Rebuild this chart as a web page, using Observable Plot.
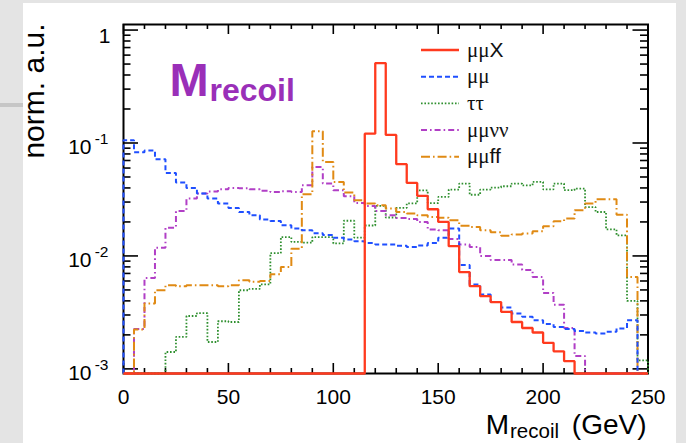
<!DOCTYPE html>
<html><head><meta charset="utf-8">
<script src="https://cdn.jsdelivr.net/npm/d3@7"></script>
<script src="https://cdn.jsdelivr.net/npm/@observablehq/plot@0.6"></script>
<style>
html,body{margin:0;padding:0;}
body{width:686px;height:443px;background:#e4e4e4;position:relative;overflow:hidden;}
#paper{position:absolute;left:23px;top:3px;width:653px;height:440px;background:#fff;}
#band{position:absolute;left:0;top:103px;width:23px;height:4px;background:#c6c6c6;}
#chart{position:absolute;left:0;top:0;}
</style></head><body>
<div id="paper"></div><div id="band"></div><div id="chart"></div>
<script>
// ---------- data (50 bins of 5 GeV, 0–250 GeV) ----------
const BIN = 5;
const binLow = d3.range(0, 250, BIN);

const muMuX = [0,0,0,0,0,0,0,0,0,0, 0,0,0,0,0,0,0,0,0,0, 0,0,0,0.121,0.51,0.118,0.065,0.0443,0.034,0.0259,
  0.020,0.0122,0.0072,0.0054,0.0044,0.0039,0.0032,0.0026,0.0023,0.0021, 0.0017,0.00143,0.00117,0,0,0,0,0,0,0];
const muMu = [0.106,0.083,0.086,0.0718,0.0543,0.0446,0.040,0.0357,0.0322,0.0291, 0.0266,0.0245,0.0229,0.021,0.0204,0.0187,0.0175,0.0169,0.0159,0.0153,
  0.0145,0.014,0.0135,0.013,0.0126,0.0126,0.0123,0.012,0.0124,0.013, 0.0145,0.0175,0.0083,0.0056,0.00455,0.0039,0.0035,0.0031,0.0029,0.0027,
  0.0025,0.00235,0.00225,0.00217,0.0021,0.00206,0.00213,0.00228,0.0027,0];
const tauTau = [0,0,0,0,0.00141,0.00192,0.00294,0.00311,0.00173,0.00264, 0.0026,0.00497,0.0051,0.0056,0.0106,0.0147,0.0133,0.0131,0.0147,0.0147,
  0.0129,0.0205,0.0145,0.0186,0.0277,0.0219,0.0266,0.0292,0.0381,0.0294, 0.0333,0.0387,0.0437,0.0348,0.0387,0.0403,0.0414,0.0437,0.0422,0.0452,
  0.0389,0.0437,0.0382,0.0395,0.0271,0.0245,0.0172,0.0152,0.004,0.00119];
const muMuNuNu = [0,0.00226,0.00638,0.0118,0.0178,0.025,0.0322,0.0357,0.0372,0.0389, 0.040,0.0398,0.0389,0.0378,0.0368,0.0373,0.0368,0.0422,0.0613,0.0437,
  0.0381,0.0338,0.0294,0.0277,0.025,0.0229,0.0217,0.0212,0.020,0.0171, 0.0169,0.0141,0.0126,0.012,0.010,0.0092,0.0092,0.0084,0.0075,0.0065,
  0.0047,0.0037,0.0023,0.0013,0,0,0,0,0,0];
const muMuFF = [0,0.00223,0.00379,0.00497,0.0055,0.0054,0.0055,0.0055,0.0055,0.0054, 0.0055,0.0061,0.0059,0.0060,0.0069,0.008,0.0116,0.0352,0.127,0.068,
  0.0452,0.0364,0.0311,0.0291,0.0281,0.0263,0.0245,0.0237,0.0229,0.0221, 0.0218,0.0207,0.0185,0.018,0.0169,0.0162,0.0151,0.0155,0.0158,0.0165,
  0.0183,0.0203,0.0214,0.0254,0.0291,0.0318,0.0318,0.0232,0.0065,0];

const xTickLabels = [0, 50, 100, 150, 200, 250];
const xMinorTicks = d3.range(0, 251, 10).filter(v => v % 50 !== 0);
const yTickValues = [1, 0.1, 0.01, 0.001];
const yTickExponents = [0, -1, -2, -3];
const yMinorTicks = [-3, -2, -1].flatMap(e => d3.range(2, 10).map(m => m * Math.pow(10, e)));

const seriesNames = ["μμX", "μμ", "ττ", "μμνν", "μμff"];

// ---------- layout / style ----------
const W = 686, H = 443, mL = 123, mR = 38.5, mT = 24, mB = 70;
const pW = W - mL - mR, pH = H - mT - mB;
const YMIN = 0.00091, YMAX = 1.12;
const FONT = '"Liberation Sans", Arial, Helvetica, sans-serif';
const SERIF = '"Liberation Serif", "Times New Roman", serif';

const styles = [
  {color: "#ff3a1e", width: 2.3, dash: null},
  {color: "#1f4fff", width: 2, dash: "5,3"},
  {color: "#2e8f2e", width: 1.8, dash: "1.6,1.8"},
  {color: "#b13fc6", width: 2, dash: "6,3,1.6,3"},
  {color: "#e08a14", width: 2, dash: "9,3,1.6,3"}
];
const legendParts = [
  [["μμ", SERIF], ["X", FONT]],
  [["μμ", SERIF]],
  [["ττ", SERIF]],
  [["μμνν", SERIF]],
  [["μμ", SERIF], ["ff", FONT]]
];

function steps(values, name) {
  const pts = [{x: 0, y: YMIN, s: name}];
  values.forEach((v, i) => {
    const y = Math.max(v, YMIN);
    pts.push({x: binLow[i], y, s: name}, {x: binLow[i] + BIN, y, s: name});
  });
  pts.push({x: 250, y: YMIN, s: name});
  return pts;
}
const allSeries = [muMuX, muMu, tauTau, muMuNuNu, muMuFF];
const drawOrder = [2, 3, 4, 1, 0];

const lineMarks = drawOrder.map(k => Plot.line(steps(allSeries[k], seriesNames[k]), {
  x: "x", y: "y", stroke: styles[k].color, strokeWidth: styles[k].width,
  strokeDasharray: styles[k].dash, strokeLinejoin: "miter", strokeLinecap: "butt", curve: "linear"
}));

function legendMark(index, scales, values, dims) {
  const g = d3.create("svg:g").attr("text-anchor", "start");
  const x0 = dims.marginLeft + 298, x1 = dims.marginLeft + 336, tx = dims.marginLeft + 344;
  const rows = [26, 52.7, 79.3, 106, 132.7].map(r => dims.marginTop + r);
  seriesNames.forEach((name, k) => {
    g.append("line").attr("x1", x0).attr("x2", x1).attr("y1", rows[k]).attr("y2", rows[k])
      .attr("stroke", styles[k].color).attr("stroke-width", styles[k].width)
      .attr("stroke-dasharray", styles[k].dash);
    const t = g.append("text").attr("x", tx).attr("y", rows[k] + 6.5)
      .attr("text-anchor", "start").attr("font-size", 21).attr("fill", "#111");
    legendParts[k].forEach(([s, f]) => t.append("tspan").attr("font-family", f).text(s));
  });
  return g.node();
}

const tickStyle = {stroke: "black", strokeWidth: 1.6};

const chart = Plot.plot({
  width: W, height: H,
  marginLeft: mL, marginRight: mR, marginTop: mT, marginBottom: mB,
  style: {background: "transparent", fontFamily: FONT, overflow: "visible"},
  x: {domain: [0, 250], axis: null},
  y: {type: "log", domain: [YMIN, YMAX], axis: null},
  marks: [
    Plot.tickX(xTickLabels, {x: d => d, insetTop: pH - 10, ...tickStyle}),
    Plot.tickX(xMinorTicks, {x: d => d, insetTop: pH - 5, ...tickStyle}),
    Plot.tickX(xTickLabels, {x: d => d, insetBottom: pH - 10, ...tickStyle}),
    Plot.tickX(xMinorTicks, {x: d => d, insetBottom: pH - 5, ...tickStyle}),
    Plot.tickY(yTickValues, {y: d => d, insetRight: pW - 15, ...tickStyle}),
    Plot.tickY(yMinorTicks, {y: d => d, insetRight: pW - 7.5, ...tickStyle}),
    Plot.tickY(yTickValues, {y: d => d, insetLeft: pW - 15, ...tickStyle}),
    Plot.tickY(yMinorTicks, {y: d => d, insetLeft: pW - 7.5, ...tickStyle}),
    Plot.frame({stroke: "black", strokeWidth: 2}),
    ...lineMarks,
    Plot.text(xTickLabels, {x: d => d, text: d => String(d), frameAnchor: "bottom",
      lineAnchor: "bottom", dy: 30, fontSize: 21, fill: "black"}),
    Plot.text(yTickValues.filter((v, i) => yTickExponents[i] === 0), {y: d => d, text: () => "1",
      frameAnchor: "left", textAnchor: "end", lineAnchor: "bottom", dx: -13, dy: 12.5, fontSize: 21, fill: "black"}),
    Plot.text(yTickValues.filter((v, i) => yTickExponents[i] !== 0), {y: d => d, text: () => "10",
      frameAnchor: "left", textAnchor: "end", lineAnchor: "bottom", dx: -32, dy: 11, fontSize: 21, fill: "black"}),
    Plot.text(yTickValues.filter((v, i) => yTickExponents[i] !== 0), {y: d => d,
      text: d => String(yTickExponents[yTickValues.indexOf(d)]),
      frameAnchor: "left", textAnchor: "end", lineAnchor: "bottom", dx: -15, dy: 1.5, fontSize: 15.5, fill: "black"}),
    Plot.text(["norm. a.u."], {text: d => d, frameAnchor: "top-left", rotate: -90,
      textAnchor: "end", lineAnchor: "bottom", dx: -80, dy: -1, fontSize: 30, fill: "black"}),
    Plot.text(["(GeV)"], {text: d => d, frameAnchor: "bottom-right", textAnchor: "end",
      lineAnchor: "bottom", dx: -1.5, dy: 60, fontSize: 28, fill: "black"}),
    Plot.text(["recoil"], {text: d => d, frameAnchor: "bottom-right", textAnchor: "end",
      lineAnchor: "bottom", dx: -89, dy: 64, fontSize: 20.5, fill: "black"}),
    Plot.text(["M"], {text: d => d, frameAnchor: "bottom-right", textAnchor: "end",
      lineAnchor: "bottom", dx: -139, dy: 60, fontSize: 28, fill: "black"}),
    Plot.text(["M"], {text: d => d, frameAnchor: "top-left", textAnchor: "start",
      lineAnchor: "bottom", dx: 46, dy: 71, fontSize: 47, fontWeight: "bold", fill: "#9a2fb8"}),
    Plot.text(["recoil"], {text: d => d, frameAnchor: "top-left", textAnchor: "start",
      lineAnchor: "bottom", dx: 86, dy: 76, fontSize: 32, fontWeight: "bold", fill: "#9a2fb8"}),
    legendMark
  ]
});
document.getElementById("chart").appendChild(chart);
</script>
</body></html>
